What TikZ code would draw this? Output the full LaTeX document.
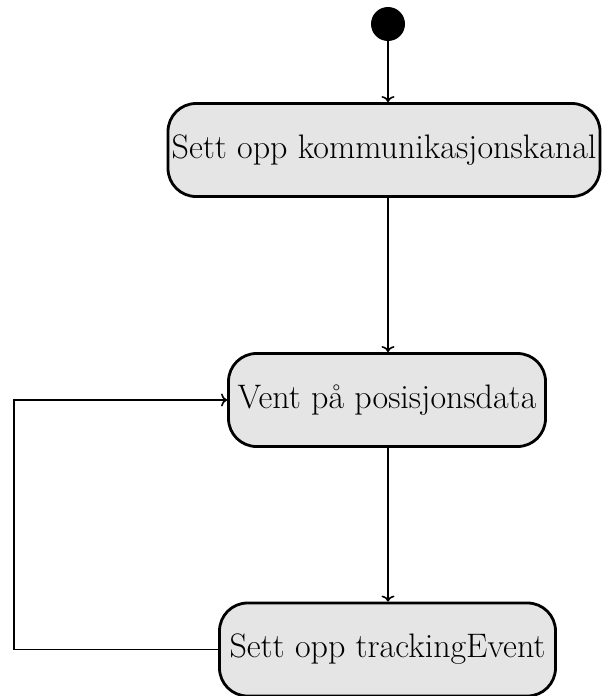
\documentclass[tikz,border=0pt]{standalone}
\usetikzlibrary{arrows.meta}
\definecolor{statefill}{gray}{0.9}
\begin{document}
\begin{tikzpicture}[x=1pt,y=-1pt,
  state/.style={draw, line width=2.8pt, fill=statefill, rounded corners=28pt,
    minimum height=93pt, inner xsep=0pt,
    font=\fontsize{34}{40}\selectfont},
  flow/.style={line width=1.6pt, -{To[length=6pt,width=13pt]}},
  startdot/.style={circle, fill=black, minimum size=34pt, inner sep=0pt}]
  \useasboundingbox (0,0) rectangle (603,696);
  \node[startdot] (start) at (388,24) {};
  \node[state, minimum width=432pt] (chan) at (384,150) {Sett opp kommunikasjonskanal};
  \node[state, minimum width=317pt] (wait) at (387,400) {Vent på posisjonsdata};
  \node[state, minimum width=336pt] (track) at (387.5,649.5) {Sett opp trackingEvent};
  \coordinate (loopbot) at (14,649.5);
  \coordinate (looptop) at (14,400);
  \draw[flow] (start) -- (start |- chan.north);
  \draw[flow] (chan.south -| start) -- (wait.north -| start);
  \draw[flow] (wait.south -| start) -- (track.north -| start);
  \draw[flow] (track.west) -- (loopbot) -- (looptop) -- (wait.west);
\end{tikzpicture}
\end{document}
